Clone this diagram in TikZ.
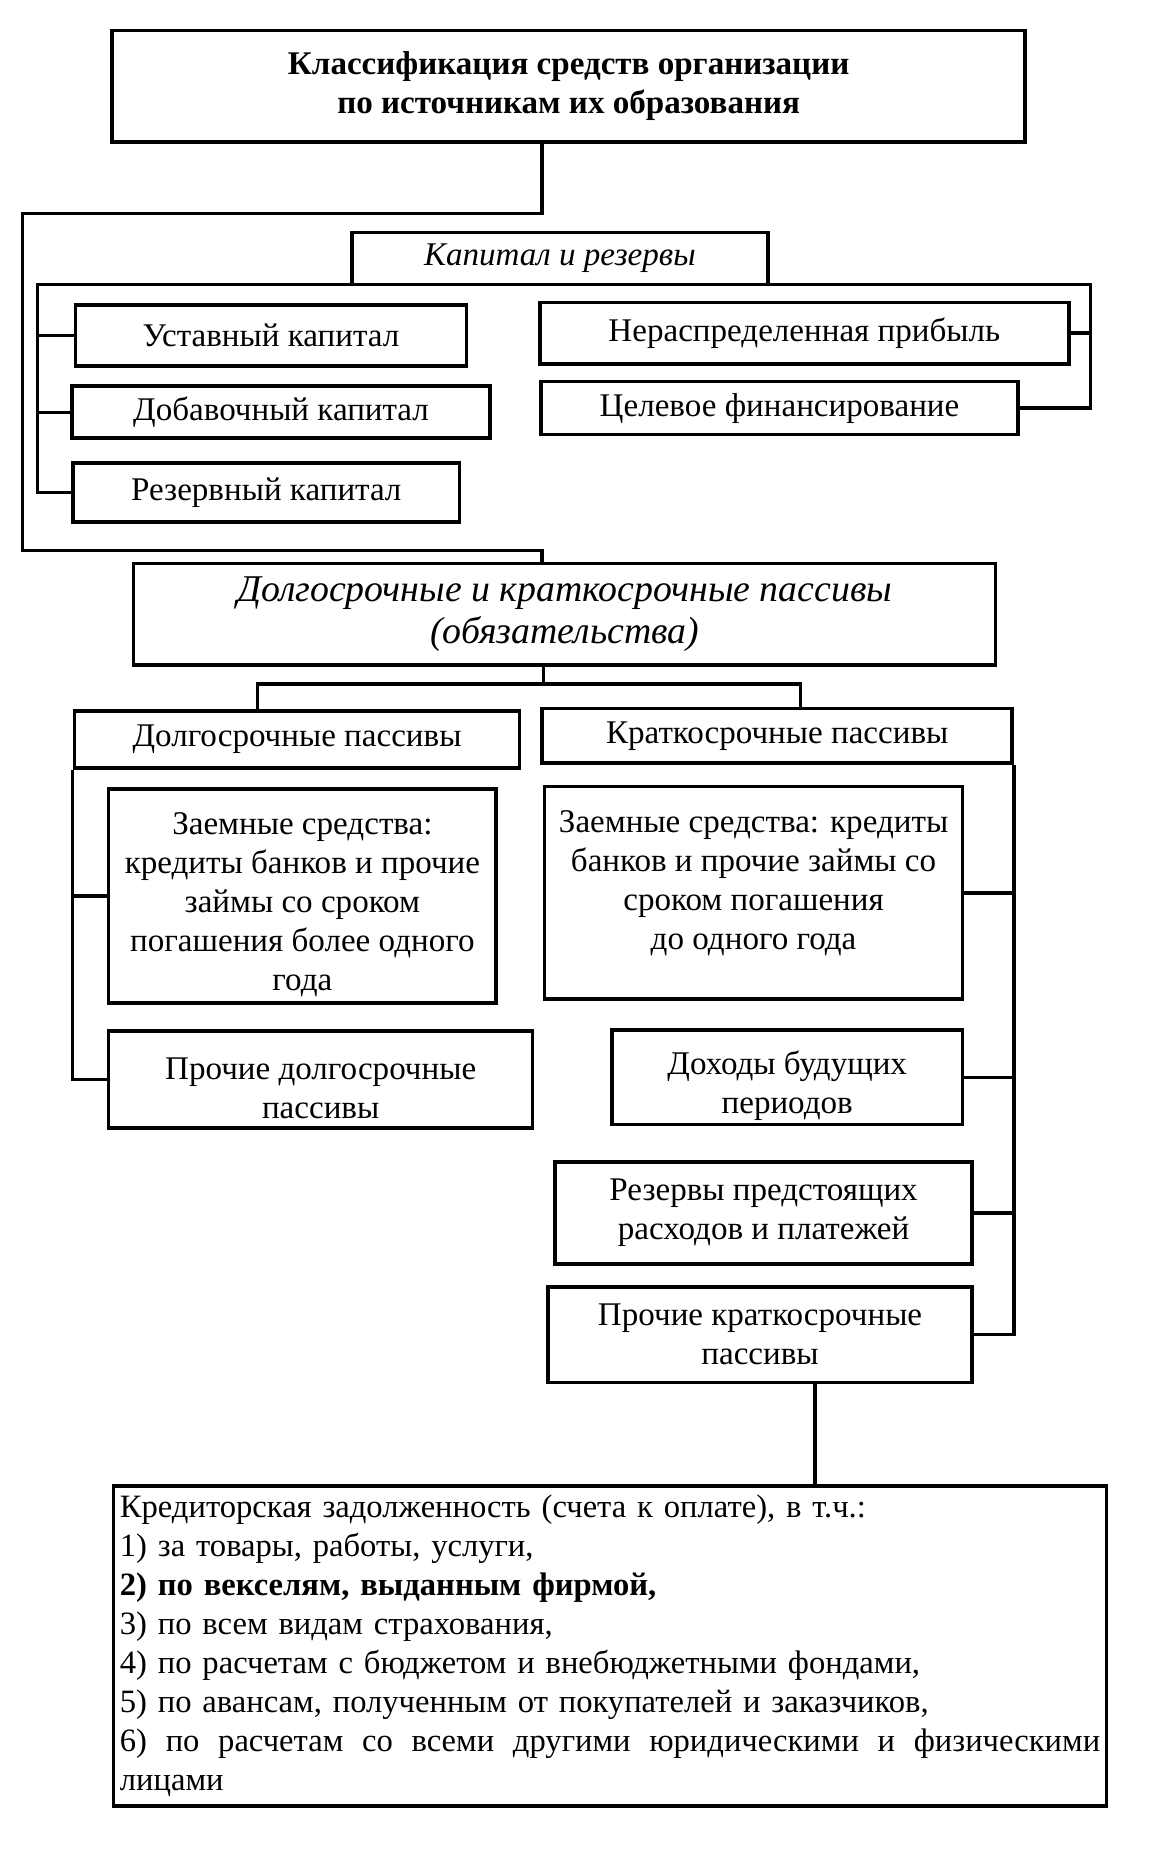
\documentclass[tikz,border=0pt]{standalone}
\usepackage{fontspec}
\setmainfont{Liberation Serif}
\usetikzlibrary{positioning}

\newcommand{\topstrut}{\rule{0pt}{17pt}}
\newcommand{\botstrut}{\rule[-11pt]{0pt}{1pt}}

\tikzset{
  box/.style={draw, line width=1.5pt, inner sep=0pt, align=center, font=\fontsize{14}{16.5}\selectfont},
  link/.style={line width=1.4pt},
}

\begin{document}
\begin{tikzpicture}[x=0.5pt, y=-0.5pt]
    \useasboundingbox (0,0) rectangle (974,1568);

    \node[box, font=\bfseries\fontsize{14}{16.5}\selectfont, minimum width=386.5pt, minimum height=47pt] (title) at (481.5,73) {Классификация средств организации\\по источникам их образования};
    \node[box, font=\itshape\fontsize{14}{16.5}\selectfont, minimum width=176pt, minimum height=22pt] (kapres) at (474,219) {Капитал и резервы};
    \node[box, minimum width=165.5pt, minimum height=26pt] (ustav) at (229.5,284) {Уставный капитал};
    \node[box, minimum width=177pt, minimum height=22pt] (dobav) at (238,349) {Добавочный капитал};
    \node[box, minimum width=163.5pt, minimum height=25pt] (rezerv) at (225.5,417) {Резервный капитал};
    \node[box, minimum width=224pt, minimum height=26pt] (nerasp) at (681,282) {Нераспределенная прибыль};
    \node[box, minimum width=202pt, minimum height=22.5pt] (celev) at (660,345.5) {Целевое финансирование};

    \node[box, font=\itshape\fontsize{16}{17.5}\selectfont, minimum width=365pt, minimum height=43pt] (passiv) at (478,520) {Долгосрочные и краткосрочные пассивы\\(обязательства)};
    \node[box, minimum width=188.5pt, minimum height=24pt] (dolg) at (251.5,626) {Долгосрочные пассивы};
    \node[box, minimum width=199pt, minimum height=23pt] (krat) at (658,623) {Краткосрочные пассивы};

    \node[box, minimum width=164pt, minimum height=90.5pt] (zaemd) at (256,758.5) {\topstrut Заемные средства:\\кредиты банков и прочие\\займы со сроком\\погашения более одного\\года};
    \node[box, minimum width=179.5pt, minimum height=41pt] (prochd) at (271.5,914) {\topstrut Прочие долгосрочные\\пассивы};

    \node[box, minimum width=177pt, minimum height=90pt] (zaemk) at (638,756) {Заемные средства: кредиты\\банков и прочие займы со\\сроком погашения\\до одного года\botstrut};
    \node[box, minimum width=148.5pt, minimum height=40pt] (dohod) at (666.5,912) {\topstrut Доходы будущих\\периодов};
    \node[box, minimum width=176.5pt, minimum height=43pt] (rezpr) at (646.5,1027) {Резервы предстоящих\\расходов и платежей};
    \node[box, minimum width=179.5pt, minimum height=40.5pt] (prochk) at (643.5,1130) {Прочие краткосрочные\\пассивы};

    \node[box, align=left, text width=415pt, inner sep=2.75pt, minimum height=135.5pt, font=\fontsize{13.8}{16.5}\selectfont] (kredit) at (516.5,1393.5) {Кредиторская задолженность (счета к оплате), в т.ч.:\\
1) за товары, работы, услуги,\\
\textbf{2) по векселям, выданным фирмой,}\\
3) по всем видам страхования,\\
4) по расчетам с бюджетом и внебюджетными фондами,\\
5) по авансам, полученным от покупателей и заказчиков,\\
\leavevmode\hbox to 415pt{6)\hfill по\hfill расчетам\hfill со\hfill всеми\hfill другими\hfill юридическими\hfill и\hfill физическими}\\
лицами};

    \coordinate (tl) at (19,181);
    \coordinate (bl) at (19,466);
    \coordinate (br) at (459,466);
    \coordinate (fl) at (32,241);
    \coordinate (fr) at (923,241);
    \coordinate (sp) at (460,579);
    \coordinate (sl) at (218,579);
    \coordinate (sr) at (678,579);
    \coordinate (lc) at (690,1258);

    \draw[link] (title.south -| br) |- (tl) -- (bl) -| (passiv.north -| br);
    \draw[link] (rezerv.west) -| (fl) -- (fr) |- (celev.east);
    \draw[link] (ustav.west) -- (ustav.west -| fl);
    \draw[link] (dobav.west) -- (dobav.west -| fl);
    \draw[link] (nerasp.east) -- (nerasp.east -| fr);

    \draw[link] (passiv.south -| sp) -- (sp);
    \draw[link] (dolg.north -| sl) |- (sr) -- (krat.north -| sr);

    \draw[link] (dolg.south west) |- (prochd.west);
    \draw[link] (zaemd.west) -- (zaemd.west -| dolg.west);

    \draw[link] (krat.south east) |- (prochk.east);
    \draw[link] (zaemk.east) -- (zaemk.east -| krat.east);
    \draw[link] (dohod.east) -- (dohod.east -| krat.east);
    \draw[link] (rezpr.east) -- (rezpr.east -| krat.east);

    \draw[link] (prochk.south -| lc) -- (kredit.north -| lc);
\end{tikzpicture}
\end{document}
